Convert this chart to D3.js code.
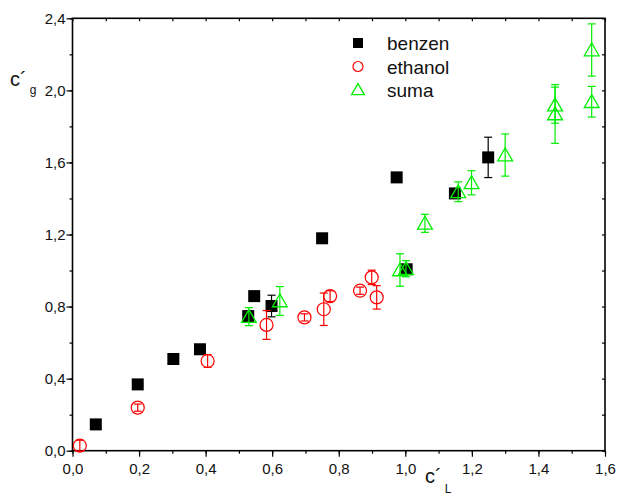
<!DOCTYPE html>
<html><head><meta charset="utf-8">
<script src="https://cdn.jsdelivr.net/npm/d3@7"></script>
<style>body{margin:0;background:#fff;} svg{display:block;font-family:"Liberation Sans",Arial,sans-serif;}</style>
</head><body>
<svg id="c" width="620" height="497"></svg>
<script>
// data: [x, y, error]
const benzenX = [0.070, 0.196, 0.303, 0.383, 0.528, 0.546, 0.598, 0.750, 0.974, 1.004, 1.149, 1.249];
const benzenY = [0.146, 0.368, 0.509, 0.563, 0.747, 0.858, 0.803, 1.179, 1.517, 1.007, 1.428, 1.628];
const benzenE = [0, 0, 0, 0, 0.03, 0, 0.06, 0, 0.02, 0, 0, 0.112];

const ethanolX = [0.022, 0.196, 0.406, 0.583, 0.697, 0.755, 0.774, 0.864, 0.899, 0.914];
const ethanolY = [0.028, 0.239, 0.498, 0.698, 0.740, 0.785, 0.858, 0.888, 0.962, 0.851];
const ethanolE = [0.03, 0.02, 0.035, 0.08, 0.02, 0.09, 0.03, 0.02, 0.04, 0.065];

const sumaX = [0.530, 0.623, 0.984, 1.002, 1.059, 1.159, 1.199, 1.300, 1.450, 1.450, 1.560, 1.560];
const sumaY = [0.744, 0.831, 1.003, 1.010, 1.262, 1.437, 1.487, 1.641, 1.918, 1.869, 2.224, 1.937];
const sumaE = [0.05, 0.08, 0.09, 0.045, 0.05, 0.055, 0.067, 0.117, 0.10, 0.163, 0.145, 0.085];

const xMajor = [0, 0.2, 0.4, 0.6, 0.8, 1.0, 1.2, 1.4, 1.6];
const yMajor = [0, 0.4, 0.8, 1.2, 1.6, 2.0, 2.4];
const legendLabels = ["benzen", "ethanol", "suma"];

const L = 72.5, R = 605, T = 18.3, B = 450.7;
const svg = d3.select("#c");
const x = d3.scaleLinear().domain([0, 1.6]).range([L, R]);
const y = d3.scaleLinear().domain([0, 2.4]).range([B, T]);
const fmt = d => d.toFixed(1).replace(".", ",");
const xMinor = d3.range(0, 17).map(i => i / 10);
const yMinor = d3.range(0, 13).map(i => i / 5);

function styleAxis(g) {
  g.select(".domain").remove();
  g.selectAll("line").attr("stroke", "#000").attr("stroke-width", 1.2);
  g.selectAll("text").attr("font-size", 15).attr("fill", "#111").attr("font-family", "Liberation Sans, Arial, sans-serif");
}
// minor ticks
svg.append("g").attr("transform", `translate(0,${B})`).call(d3.axisBottom(x).tickValues(xMinor).tickSize(3).tickFormat("")).call(styleAxis);
svg.append("g").attr("transform", `translate(${L},0)`).call(d3.axisLeft(y).tickValues(yMinor).tickSize(3).tickFormat("")).call(styleAxis);
// major ticks
svg.append("g").attr("transform", `translate(0,${B})`).call(d3.axisBottom(x).tickValues(xMajor).tickSize(6).tickPadding(7).tickFormat(fmt)).call(styleAxis);
svg.append("g").attr("transform", `translate(${L},0)`).call(d3.axisLeft(y).tickValues(yMajor).tickSize(6).tickPadding(1).tickFormat(fmt)).call(styleAxis);
// inner ticks top/right
svg.append("g").attr("transform", `translate(0,${T})`).call(d3.axisBottom(x).tickValues(xMinor).tickSize(3).tickFormat("")).call(styleAxis);
svg.append("g").attr("transform", `translate(${R},0)`).call(d3.axisLeft(y).tickValues(yMinor).tickSize(3).tickFormat("")).call(styleAxis);

// frame
svg.append("rect").attr("x", L).attr("y", T).attr("width", R - L).attr("height", B - T)
  .attr("fill", "none").attr("stroke", "#000").attr("stroke-width", 1.6);

// axis titles
const ty = svg.append("text").attr("x", 10).attr("y", 86).attr("font-size", 20).attr("fill", "#111");
ty.append("tspan").text("c´");
ty.append("tspan").attr("font-size", 12).attr("dx", 3).attr("dy", 8).text("g");
const tx = svg.append("text").attr("x", 425).attr("y", 483).attr("font-size", 20).attr("fill", "#111");
tx.append("tspan").text("c´");
tx.append("tspan").attr("font-size", 12).attr("dx", 3).attr("dy", 10).text("L");

const pts = (X, Y, E) => X.map((v, i) => ({x: v, y: Y[i], e: E[i]}));

function errorBars(data, color) {
  const g = svg.append("g").attr("stroke", color).attr("stroke-width", 1.2).attr("fill", "none");
  data.filter(d => d.e > 0).forEach(d => {
    const cx = x(d.x), y1 = y(d.y + d.e), y2 = y(d.y - d.e);
    g.append("line").attr("x1", cx).attr("x2", cx).attr("y1", y1).attr("y2", y2);
    g.append("line").attr("x1", cx - 4).attr("x2", cx + 4).attr("y1", y1).attr("y2", y1);
    g.append("line").attr("x1", cx - 4).attr("x2", cx + 4).attr("y1", y2).attr("y2", y2);
  });
}

const bz = pts(benzenX, benzenY, benzenE);
const et = pts(ethanolX, ethanolY, ethanolE);
const su = pts(sumaX, sumaY, sumaE);

const tri = d3.symbol().type(d3.symbolTriangle).size(95);

// benzen
errorBars(bz, "#000");
svg.append("g").selectAll("rect").data(bz).join("rect")
  .attr("x", d => x(d.x) - 6).attr("y", d => y(d.y) - 6).attr("width", 12).attr("height", 12).attr("fill", "#000");
// ethanol
svg.append("g").selectAll("circle").data(et).join("circle")
  .attr("cx", d => x(d.x)).attr("cy", d => y(d.y)).attr("r", 6.5)
  .attr("fill", "none").attr("stroke", "#ff0000").attr("stroke-width", 1.2);
errorBars(et, "#ff0000");
// suma
svg.append("g").selectAll("path").data(su).join("path")
  .attr("d", tri).attr("transform", d => `translate(${x(d.x)},${y(d.y) + 1.5})`)
  .attr("fill", "none").attr("stroke", "#00ee00").attr("stroke-width", 1.3);
errorBars(su, "#00ee00");

// legend
const lg = svg.append("g");
const ly = [43, 66.5, 90];
lg.append("rect").attr("x", 353).attr("y", ly[0] - 5).attr("width", 10).attr("height", 10).attr("fill", "#000");
lg.append("circle").attr("cx", 358).attr("cy", ly[1]).attr("r", 5).attr("fill", "none").attr("stroke", "#ff0000").attr("stroke-width", 1.2);
lg.append("path").attr("d", d3.symbol().type(d3.symbolTriangle).size(70)).attr("transform", `translate(358,${ly[2] + 1})`)
  .attr("fill", "none").attr("stroke", "#00ee00").attr("stroke-width", 1.3);
lg.selectAll("text").data(legendLabels).join("text")
  .attr("x", 387).attr("y", (d, i) => ly[i] + 7).attr("font-size", 19).attr("fill", "#111").text(d => d);
</script>
</body></html>
